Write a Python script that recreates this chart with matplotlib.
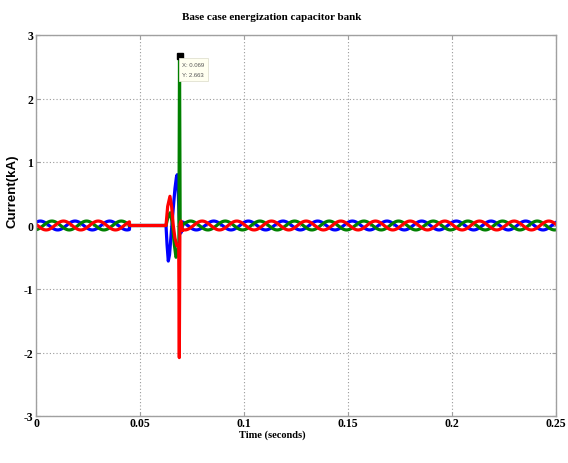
import numpy as np
import matplotlib
matplotlib.use("Agg")
import matplotlib.pyplot as plt

# ---- data ----
freq_hz = 60.0            # steady-state frequency
amp_ka = 0.07             # steady-state amplitude (kA)
red_crest_t = 0.0132      # time of a red-phase crest (s)
pre_end_t = 0.045         # currents stop
post_start_t = 0.0705     # steady-state resumes
t_end = 0.25

# transient samples (time s, current kA)
blue_tr_t = [0.0450, 0.0625, 0.0630, 0.0636, 0.0642, 0.0650, 0.0658, 0.0668, 0.0675, 0.0679, 0.0684, 0.0690, 0.0696, 0.0702]
blue_tr_v = [0.0,    0.0,   -0.30,  -0.56,  -0.46,  -0.12,   0.20,   0.58,   0.76,   0.80,   0.50,   0.02,  -0.12,  -0.06]
green_tr_t = [0.0450, 0.0625, 0.0635, 0.0645, 0.0655, 0.0665, 0.0673, 0.0680, 0.0687, 0.0690, 0.0693, 0.0698, 0.0702]
green_tr_v = [0.0,    0.0,    0.14,   0.20,   0.05,  -0.30,  -0.50,  -0.46,  -0.25,   2.663,  0.02,  -0.06,   0.03]
red_tr_t = [0.0450, 0.0625, 0.0633, 0.0644, 0.0652, 0.0660, 0.0668, 0.0678, 0.0686, 0.0689, 0.0692, 0.0697, 0.0701, 0.0704]
red_tr_v = [0.0,    0.0,    0.30,   0.46,   0.30,   0.00,  -0.20,  -0.32,  -0.30,  -2.08,   0.02,   0.07,  -0.02,  -0.08]

tip_x = 0.069
tip_y = 2.663

x_ticks = [0, 0.05, 0.1, 0.15, 0.2, 0.25]
x_tick_labels = ["0", "0.05", "0.1", "0.15", "0.2", "0.25"]
y_ticks = [-3, -2, -1, 0, 1, 2, 3]
y_tick_labels = ["-3", "-2", "-1", "0", "1", "2", "3"]

title = "Base case energization capacitor bank"
xlabel = "Time (seconds)"
ylabel = "Current(kA)"

# ---- build waveforms ----
period = 1.0 / freq_hz
phase_shift = {"red": 0.0, "green": -period / 3, "blue": -2 * period / 3}

def steady(t, name):
    return amp_ka * np.cos(2 * np.pi * freq_hz * (t - red_crest_t - phase_shift[name]))

t_pre = np.linspace(0, pre_end_t, 600)
t_post = np.linspace(post_start_t, t_end, 3000)

series = {
    "blue": (blue_tr_t, blue_tr_v, "#0000ff"),
    "green": (green_tr_t, green_tr_v, "#008000"),
    "red": (red_tr_t, red_tr_v, "#ff0000"),
}

fig = plt.figure(figsize=(5.68, 4.64), dpi=100)
ax = fig.add_axes([36 / 568, 1 - 417 / 464, 520 / 568, 381 / 464])

for name in ["blue", "green", "red"]:
    tt, vv, col = series[name]
    v_all = np.concatenate([steady(t_pre, name)[:-1], [0.0], np.array(vv[1:]), steady(t_post, name)])
    t_all = np.concatenate([t_pre[:-1], [tt[0]], np.array(tt[1:]), t_post])
    ax.plot(t_all, v_all, color=col, lw=2.3, solid_joinstyle="round")

ax.set_xlim(0, 0.25)
ax.set_ylim(-3, 3)
ax.set_xticks(x_ticks)
ax.set_xticklabels(x_tick_labels)
ax.set_yticks(y_ticks)
ax.set_yticklabels(y_tick_labels)

ax.grid(True, color="#9a9a9a", linestyle=(0, (1, 2)), linewidth=0.8)
for s in ax.spines.values():
    s.set_color("#a0a0a0")
    s.set_linewidth(1.0)
ax.tick_params(direction="in", length=3, color="#a0a0a0", top=True, right=True)
ax.tick_params(axis="x", pad=1)
ax.tick_params(axis="y", pad=2)
for lab in ax.get_xticklabels() + ax.get_yticklabels():
    lab.set_fontfamily("Liberation Serif")
    lab.set_fontweight("bold")
    lab.set_fontsize(8.5)

# data tip
ax.plot([tip_x], [tip_y], marker="s", color="black", markersize=4, zorder=5)
ax.annotate(f"X: {tip_x:.3f}\nY: {tip_y:.3f}", xy=(tip_x, tip_y), xytext=(2, -4),
            textcoords="offset points", ha="left", va="top", fontsize=4.3,
            linespacing=2.3, color="#555555", family="Liberation Sans",
            bbox=dict(boxstyle="square,pad=0.6", fc="#fffff0", ec="#e0e0d0", lw=0.6),
            zorder=6)

fig.text(272 / 568, 1 - 18 / 464, title, ha="center", va="center",
         family="Liberation Serif", fontweight="bold", fontsize=8)
fig.text(272 / 568, 1 - 435 / 464, xlabel, ha="center", va="center",
         family="Liberation Serif", fontweight="bold", fontsize=7.5)
fig.text(13 / 568, 1 - 191 / 464, ylabel, ha="center", va="center", rotation=90,
         family="Liberation Sans", fontweight="bold", fontsize=9.5)

fig.savefig("out.png", dpi=100)
